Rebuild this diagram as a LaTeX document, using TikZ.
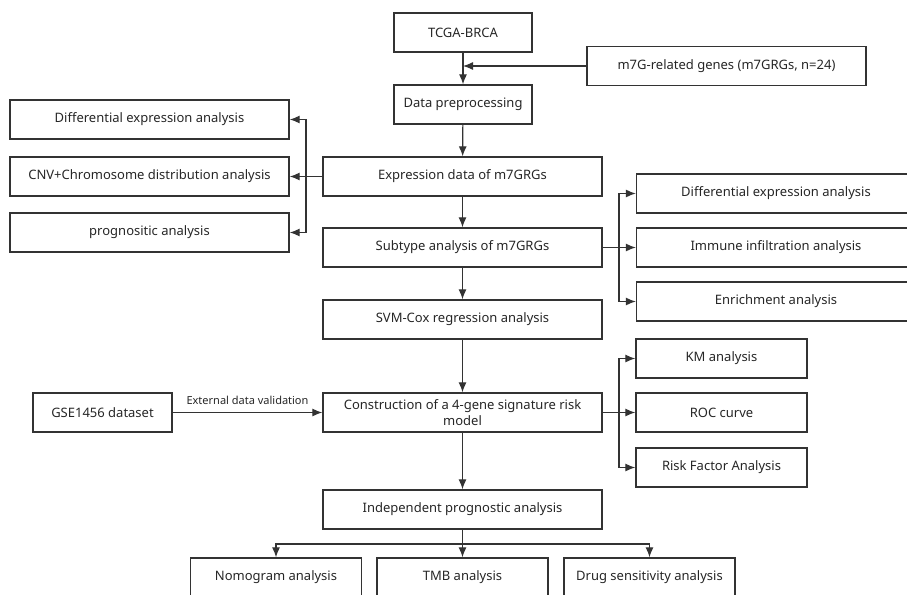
\documentclass[tikz,border=0pt]{standalone}
\usepackage{fontspec}
\setmainfont{Noto Sans}
\usetikzlibrary{arrows.meta}
\definecolor{linegray}{HTML}{333333}
\tikzset{
    box/.style={draw=linegray, line width=1.3pt, minimum width=279pt, minimum height=39pt, inner sep=2pt, font=\fontsize{13}{15}\selectfont, text=black!85},
    smallbox/.style={box, minimum width=171pt},
    link/.style={draw=linegray, line width=1.2pt, -{Latex[length=10pt, width=8pt]}}
}
\begin{document}
\begin{tikzpicture}[x=1pt, y=-1pt]
        \useasboundingbox (0, 0) rectangle (907, 594);
        \clip (0, 0) rectangle (907, 594);
        % main column
        \node[box, minimum width=138pt] (tcga) at (463, 32.5) {TCGA-BRCA};
        \node[box] (genes) at (726.5, 66) {m7G-related genes (m7GRGs, n=24)};
        \node[box, minimum width=138pt] (prep) at (463, 104.5) {Data preprocessing};
        \node[box] (expr) at (462.5, 176.5) {Expression data of m7GRGs};
        \node[box] (subtype) at (462.5, 247.5) {Subtype analysis of m7GRGs};
        \node[box] (svm) at (462.5, 319.5) {SVM-Cox regression analysis};
        \node[box, align=center, font=\fontsize{13}{16}\selectfont] (cons) at (462.5, 412.5) {Construction of a 4-gene signature risk\\model};
        \node[box] (indep) at (462.5, 509.5) {Independent prognostic analysis};
        % left branch
        \node[box] (ldiff) at (149.5, 119.5) {Differential expression analysis};
        \node[box] (cnv) at (149.5, 176.5) {CNV+Chromosome distribution analysis};
        \node[box] (prog) at (149.5, 232.5) {prognositic analysis};
        % right branch
        \node[box] (rdiff) at (776, 193.5) {Differential expression analysis};
        \node[box] (immune) at (776, 247.5) {Immune infiltration analysis};
        \node[box] (enrich) at (776, 301.5) {Enrichment analysis};
        \node[smallbox] (km) at (721.5, 358.5) {KM analysis};
        \node[smallbox] (roc) at (721.5, 412.5) {ROC curve};
        \node[smallbox] (risk) at (721.5, 467.5) {Risk Factor Analysis};
        \node[box, minimum width=139pt] (gse) at (102.5, 412.5) {GSE1456 dataset};
        % bottom row
        \node[smallbox] (nomo) at (276, 577.5) {Nomogram analysis};
        \node[smallbox] (tmb) at (462.5, 577.5) {TMB analysis};
        \node[smallbox] (drug) at (649.5, 577.5) {Drug sensitivity analysis};
        % joints
        \coordinate (lt) at (306, 176.5);
        \coordinate (rt) at (619, 247.5);
        \coordinate (kt) at (619, 412.5);
        \coordinate (bt) at (462.5, 544);
        % connectors
        \draw[link] (tcga) -- (prep);
        \draw[link] (genes.west) -- (genes.west -| tcga.south);
        \draw[link] (prep) -- (expr);
        \draw[link] (expr) -- (subtype);
        \draw[link] (subtype) -- (svm);
        \draw[link] (svm) -- (cons);
        \draw[link] (cons) -- (indep);
        \draw[link] (expr) -- (cnv);
        \draw[link] (lt) |- (ldiff);
        \draw[link] (lt) |- (prog);
        \draw[link] (subtype) -- (immune);
        \draw[link] (rt) |- (rdiff);
        \draw[link] (rt) |- (enrich);
        \draw[link] (cons) -- (roc);
        \draw[link] (kt) |- (km);
        \draw[link] (kt) |- (risk);
        \draw[link] (gse) -- node[above, yshift=4pt, font=\fontsize{11}{13}\selectfont, text=black!85] {External data validation} (cons);
        \draw[link] (indep) -- (tmb);
        \draw[link] (bt) -| (nomo);
        \draw[link] (bt) -| (drug);
    \end{tikzpicture}
\end{document}
